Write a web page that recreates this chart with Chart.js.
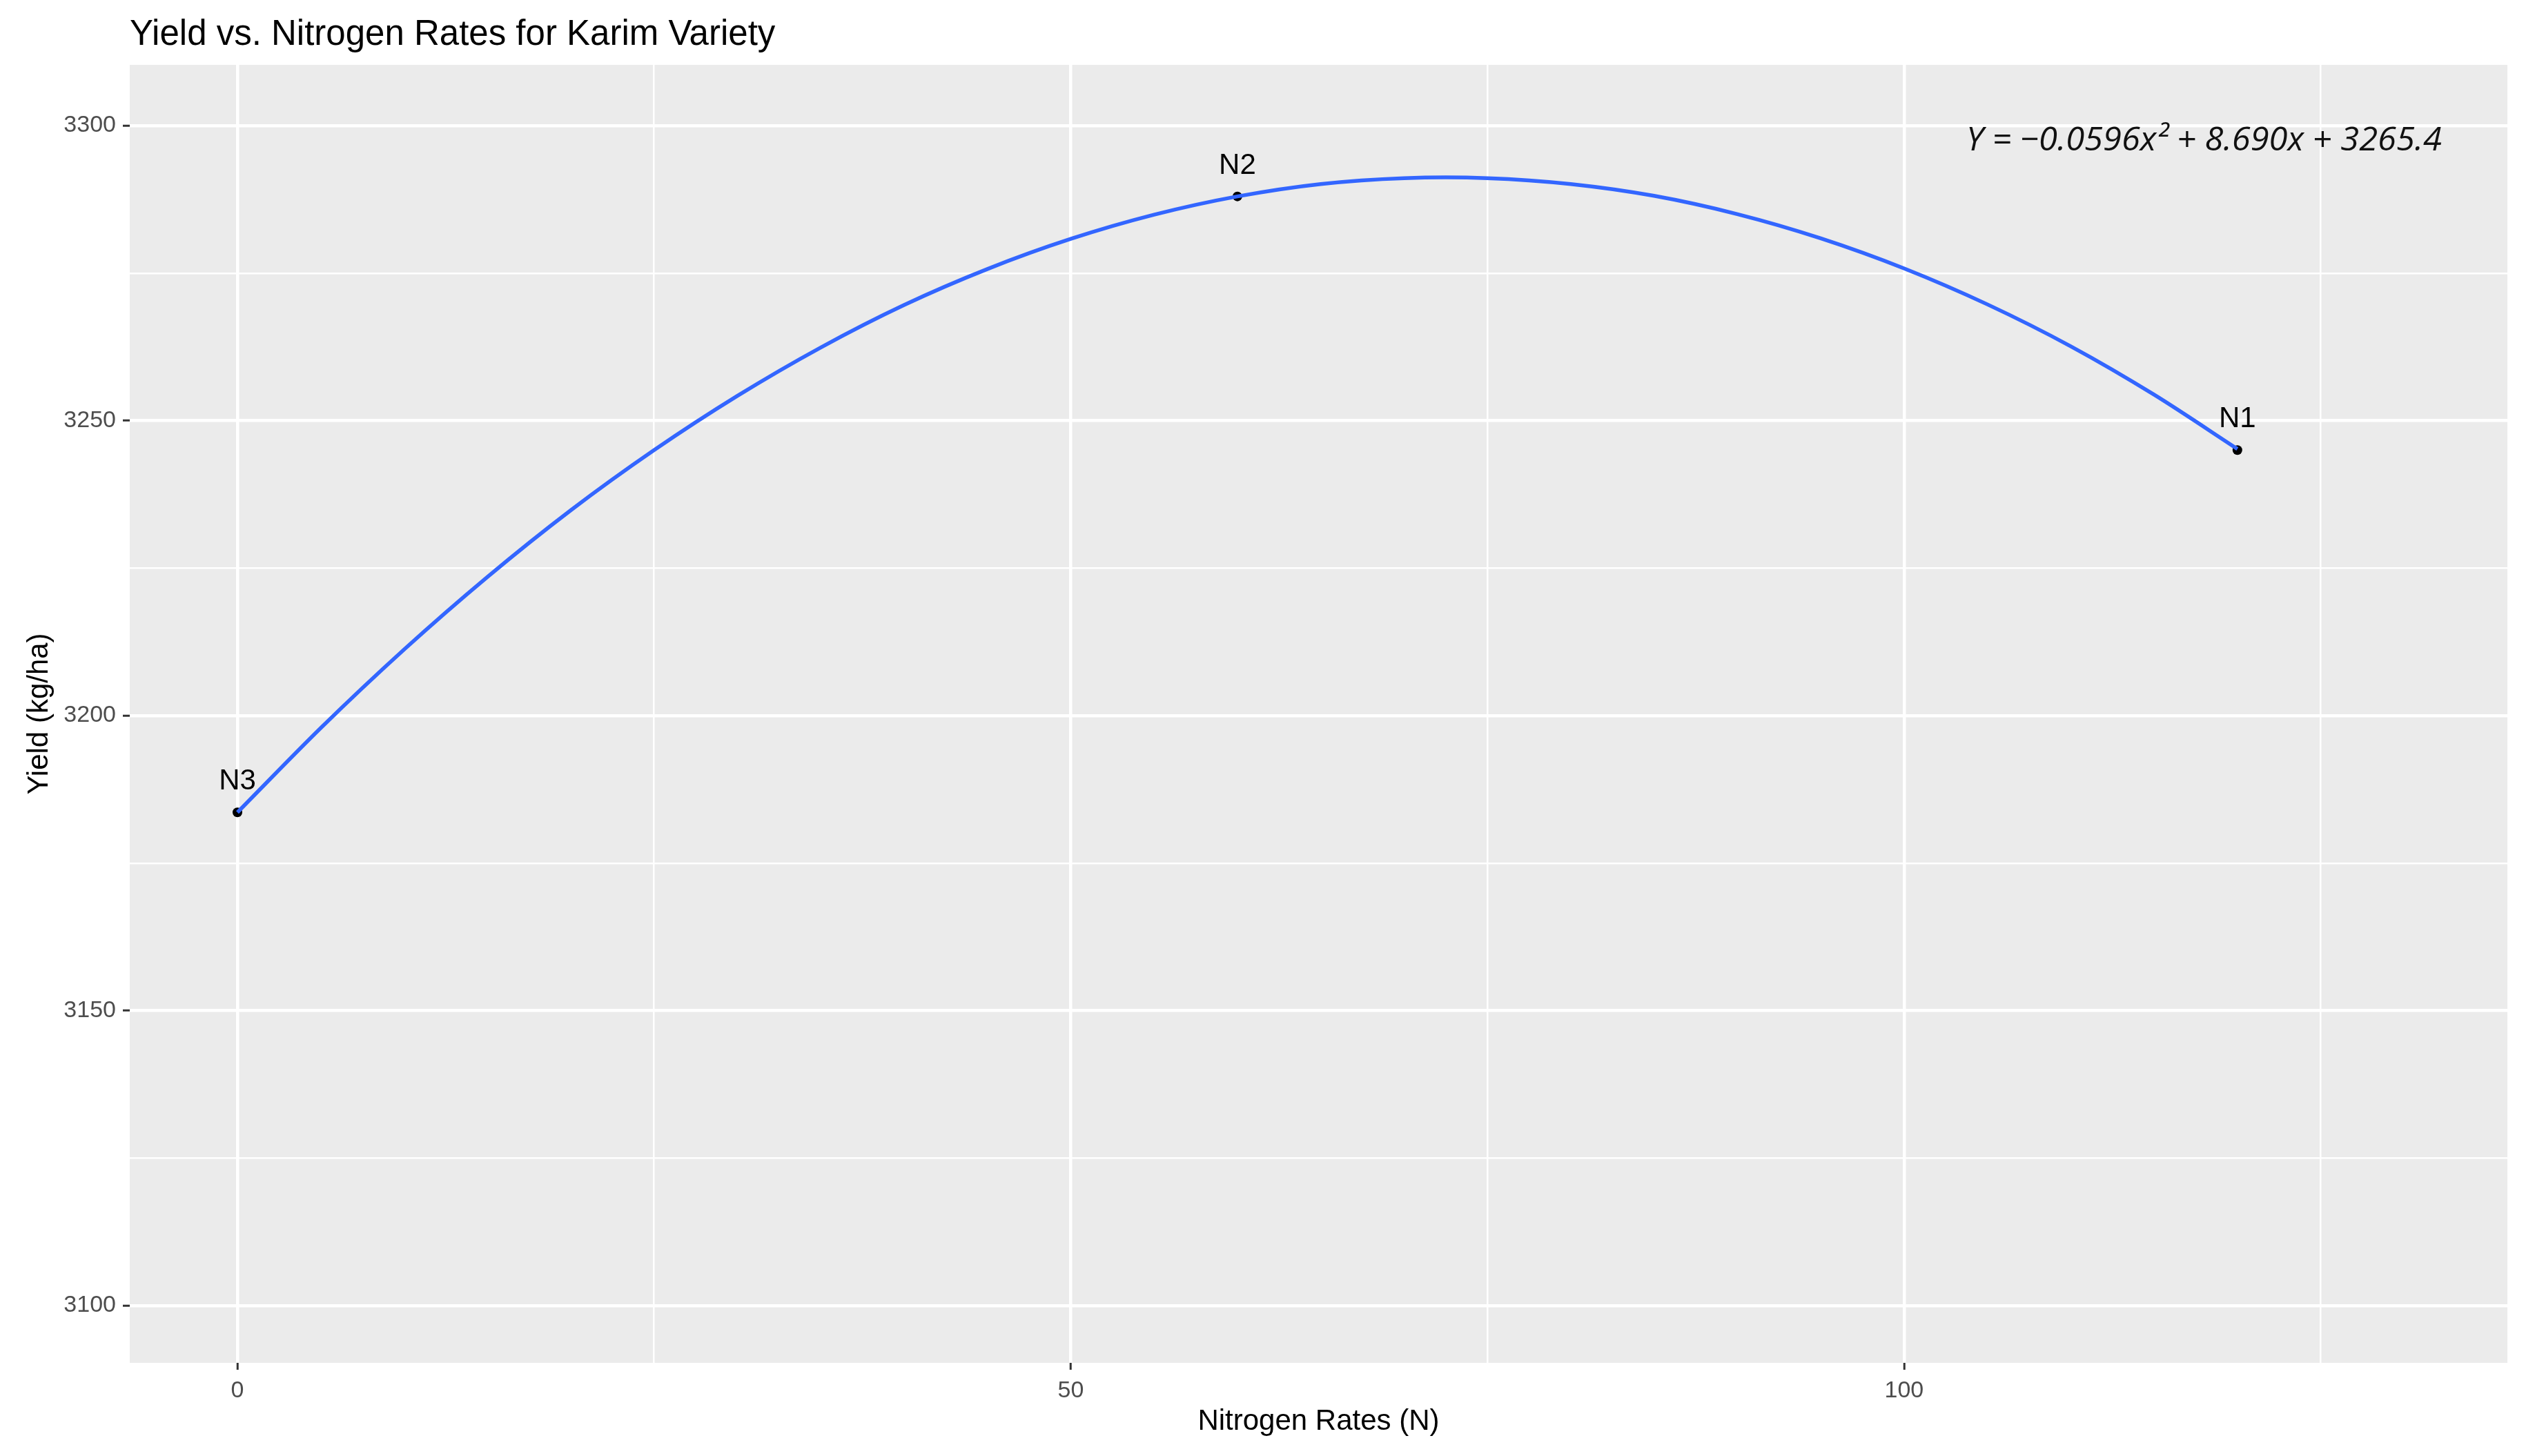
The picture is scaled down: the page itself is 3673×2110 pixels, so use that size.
<!DOCTYPE html>
<html>
<head>
<meta charset="utf-8">
<title>Yield vs. Nitrogen Rates for Karim Variety</title>
<script src="https://cdn.jsdelivr.net/npm/chart.js@4.4.1/dist/chart.umd.min.js"></script>
<style>
  html, body { margin: 0; padding: 0; background: #ffffff; }
  #wrap { width: 3673px; height: 2110px; position: relative; }
</style>
</head>
<body>
<div id="wrap"><canvas id="yieldChart" width="3673" height="2110"></canvas></div>
<script>
// observed treatments
const nitrogenRates = [0, 60, 120];
const yieldValues = [3183.6, 3288.0, 3245.0];
const pointLabels = ['N3', 'N2', 'N1'];

// fitted curve, every 5 units
const fitRates = [0, 5, 10, 15, 20, 25, 30, 35, 40, 45, 50, 55, 60, 65, 70, 75, 80, 85, 90, 95, 100, 105, 110, 115, 120];
const fitYield = [3183.6, 3197.9, 3211.2, 3223.5, 3234.8, 3245.0, 3254.2, 3262.4, 3269.6, 3275.7, 3280.8, 3284.9, 3288.0,
  3290.1, 3291.1, 3291.1, 3290.1, 3288.1, 3285.0, 3280.9, 3275.8, 3269.7, 3262.6, 3254.4, 3245.2];

// axes
const xTickValues = [0, 25, 50, 75, 100, 125];
const yTickValues = [3100, 3125, 3150, 3175, 3200, 3225, 3250, 3275, 3300];
const xRange = [-6.46, 136.2];
const yRange = [3090.3, 3310.3];

const chartTitle = 'Yield vs. Nitrogen Rates for Karim Variety';
const xTitle = 'Nitrogen Rates (N)';
const yTitle = 'Yield (kg/ha)';
const equationText = 'Y = \u22120.0596x\u00B2 + 8.690x + 3265.4';
const equationAt = { x: 118, y: 3297.4 };

const isMajor = v => v % 50 === 0;

const panelBg = {
  id: 'panelBg',
  beforeDraw(chart) {
    const { ctx, chartArea: a } = chart;
    ctx.save();
    ctx.fillStyle = '#EBEBEB';
    ctx.fillRect(a.left, a.top, a.right - a.left, a.bottom - a.top);
    ctx.restore();
  }
};

const textLayer = {
  id: 'textLayer',
  afterDraw(chart) {
    const { ctx, chartArea: a, scales } = chart;
    ctx.save();
    // title
    ctx.fillStyle = '#000000';
    ctx.font = '51px "Liberation Sans", Arial, sans-serif';
    ctx.textAlign = 'left';
    ctx.textBaseline = 'alphabetic';
    ctx.fillText(chartTitle, a.left, 65);

    // point labels
    ctx.font = '42px "Liberation Sans", Arial, sans-serif';
    ctx.textAlign = 'center';
    nitrogenRates.forEach((n, i) => {
      const px = scales.x.getPixelForValue(n);
      const py = scales.y.getPixelForValue(yieldValues[i]);
      ctx.fillText(pointLabels[i], px, py - 33);
    });

    // equation
    ctx.font = 'italic 48px "Open Sans", "DejaVu Sans", sans-serif';
    const w = ctx.measureText(equationText).width;
    const ex = scales.x.getPixelForValue(equationAt.x);
    const ey = scales.y.getPixelForValue(equationAt.y);
    const sx = 689 / w;
    ctx.translate(ex, ey);
    ctx.scale(sx, 1);
    ctx.textAlign = 'center';
    ctx.textBaseline = 'middle';
    ctx.fillStyle = '#111111';
    ctx.fillText(equationText, 0, 0);
    ctx.restore();
  }
};

const tickFont = { family: '"Liberation Sans", Arial, sans-serif', size: 34 };
const titleFont = { family: '"Liberation Sans", Arial, sans-serif', size: 42 };

new Chart(document.getElementById('yieldChart'), {
  type: 'scatter',
  data: {
    datasets: [
      {
        label: 'fit',
        data: fitRates.map((x, i) => ({ x, y: fitYield[i] })),
        showLine: true,
        borderColor: '#3366FF',
        borderWidth: 5.5,
        pointRadius: 0,
        tension: 0.3,
        fill: false
      },
      {
        label: 'observed',
        data: nitrogenRates.map((x, i) => ({ x, y: yieldValues[i] })),
        showLine: false,
        pointRadius: 7,
        pointBackgroundColor: '#000000',
        pointBorderColor: '#000000',
        pointBorderWidth: 0
      }
    ]
  },
  options: {
    responsive: false,
    animation: false,
    layout: { padding: { top: 94, right: 40, bottom: 0, left: 0 } },
    plugins: {
      legend: { display: false },
      tooltip: { enabled: false }
    },
    scales: {
      x: {
        type: 'linear',
        min: xRange[0],
        max: xRange[1],
        afterBuildTicks: axis => { axis.ticks = xTickValues.map(v => ({ value: v })); },
        afterFit: axis => { axis.height = 135; },
        border: { display: false },
        grid: {
          color: '#FFFFFF',
          lineWidth: c => isMajor(c.tick.value) ? 4.5 : 2.5,
          tickColor: c => isMajor(c.tick.value) ? '#333333' : 'rgba(0,0,0,0)',
          tickLength: 10,
          tickWidth: 3
        },
        ticks: {
          autoSkip: false,
          maxRotation: 0,
          padding: 10,
          color: '#4D4D4D',
          font: tickFont,
          callback: v => isMajor(v) ? String(v) : ''
        },
        title: {
          display: true,
          text: xTitle,
          color: '#000000',
          font: titleFont,
          padding: { top: 0, bottom: 24 }
        }
      },
      y: {
        type: 'linear',
        min: yRange[0],
        max: yRange[1],
        afterBuildTicks: axis => { axis.ticks = yTickValues.map(v => ({ value: v })); },
        afterFit: axis => { axis.width = 188; },
        border: { display: false },
        grid: {
          color: '#FFFFFF',
          lineWidth: c => isMajor(c.tick.value) ? 4.5 : 2.5,
          tickColor: c => isMajor(c.tick.value) ? '#333333' : 'rgba(0,0,0,0)',
          tickLength: 10,
          tickWidth: 3
        },
        ticks: {
          autoSkip: false,
          padding: 10,
          color: '#4D4D4D',
          font: tickFont,
          callback: v => isMajor(v) ? String(v) : ''
        },
        title: {
          display: true,
          text: yTitle,
          color: '#000000',
          font: titleFont,
          padding: { top: 32, bottom: 0 }
        }
      }
    }
  },
  plugins: [panelBg, textLayer]
});
</script>
</body>
</html>
